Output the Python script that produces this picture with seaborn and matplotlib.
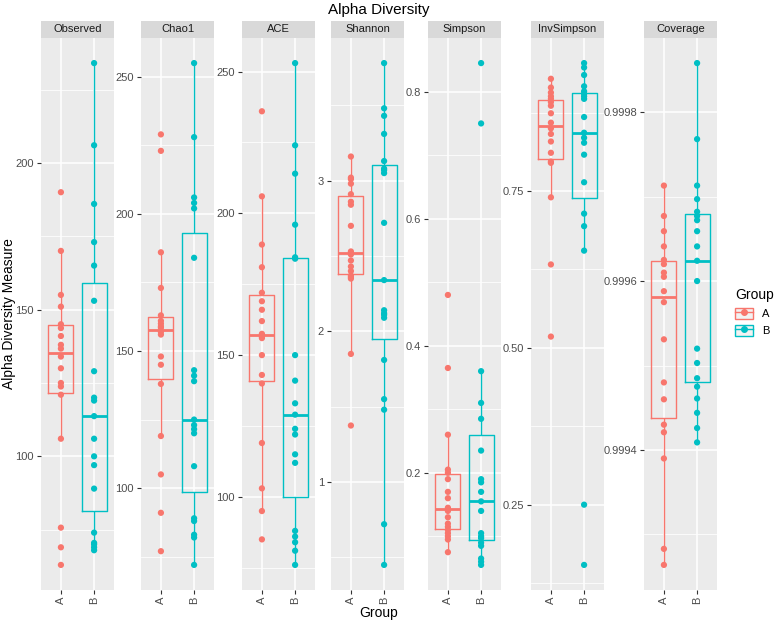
import numpy as np
import pandas as pd
import seaborn as sns
import matplotlib.pyplot as plt
from matplotlib.ticker import MultipleLocator, FormatStrFormatter
from matplotlib.patches import Patch
from matplotlib.lines import Line2D

# Data
groups = ["A", "B"]
measures = ["Observed", "Chao1", "ACE", "Shannon", "Simpson", "InvSimpson", "Coverage"]

observed_a = [190, 170, 155, 151, 145, 143.7, 141, 138, 136.7, 134, 130, 125, 123.8, 121, 106, 75.7, 69, 63]
observed_b = [234, 206, 186, 173, 165, 153, 129, 120, 119, 113.7, 106, 100, 97, 89, 74, 70.5, 70, 69, 68]

chao1_a = [229, 223, 186, 173, 163, 161, 160, 159, 158.5, 157, 156, 148, 145, 138, 119, 105, 91, 77]
chao1_b = [255, 228, 206, 204, 202, 184, 143, 141, 139, 125, 123, 121.5, 120, 108, 89, 88, 83, 82, 72]

ace_a = [236, 206, 189, 181, 172, 169, 166, 162, 157.5, 156.5, 156, 150, 143, 140, 119, 103, 95, 85]
ace_b = [253, 224, 214, 196, 184.5, 184, 150, 141, 133, 129, 124, 122, 115, 112, 88, 86, 84, 81, 76]

shannon_a = [3.16, 3.02, 3.01, 2.98, 2.91, 2.86, 2.84, 2.70, 2.53, 2.51, 2.47, 2.43, 2.40, 2.37, 2.36, 2.35, 1.85, 1.375]
shannon_b = [3.78, 3.48, 3.43, 3.31, 3.13, 3.08, 3.07, 3.05, 2.72, 2.34, 2.14, 2.12, 2.11, 2.09, 1.81, 1.55, 1.48, 0.72, 0.45]

simpson_a = [0.48, 0.365, 0.26, 0.205, 0.20, 0.19, 0.17, 0.16, 0.145, 0.14, 0.13, 0.12, 0.115, 0.11, 0.105, 0.10, 0.095, 0.075]
simpson_b = [0.845, 0.75, 0.36, 0.31, 0.285, 0.235, 0.19, 0.185, 0.17, 0.155, 0.14, 0.105, 0.10, 0.097, 0.09, 0.085, 0.065, 0.06, 0.055]

invsimpson_a = [0.929, 0.915, 0.907, 0.901, 0.897, 0.892, 0.886, 0.874, 0.859, 0.85, 0.841, 0.829, 0.811, 0.797, 0.795, 0.74, 0.633, 0.518]
invsimpson_b = [0.954, 0.947, 0.935, 0.917, 0.909, 0.905, 0.901, 0.897, 0.868, 0.843, 0.835, 0.827, 0.808, 0.764, 0.714, 0.694, 0.655, 0.25, 0.154]

coverage_a = [0.999713, 0.999677, 0.999659, 0.999641, 0.999625, 0.99962, 0.99961, 0.999605, 0.999588, 0.999575,
              0.999531, 0.99948, 0.99946, 0.99943, 0.999421, 0.99939, 0.999283, 0.999264]
coverage_b = [0.999858, 0.999768, 0.999713, 0.999697, 0.999682, 0.999677, 0.999672, 0.999659, 0.999641, 0.999624,
              0.9996, 0.99952, 0.999503, 0.999485, 0.999475, 0.999461, 0.999444, 0.999426, 0.999409]

series = {
    "Observed": (observed_a, observed_b),
    "Chao1": (chao1_a, chao1_b),
    "ACE": (ace_a, ace_b),
    "Shannon": (shannon_a, shannon_b),
    "Simpson": (simpson_a, simpson_b),
    "InvSimpson": (invsimpson_a, invsimpson_b),
    "Coverage": (coverage_a, coverage_b),
}

rows = []
for m in measures:
    a, b = series[m]
    rows += [(m, "A", v) for v in a]
    rows += [(m, "B", v) for v in b]
df = pd.DataFrame(rows, columns=["variable", "Group", "value"])

# axis ticks per facet: (major step, minor step, label format)
tick_spec = {
    "Observed": (50, 25, "%d"),
    "Chao1": (50, 25, "%d"),
    "ACE": (50, 25, "%d"),
    "Shannon": (1, 0.5, "%d"),
    "Simpson": (0.2, 0.1, "%.1f"),
    "InvSimpson": (0.25, 0.125, "%.2f"),
    "Coverage": (0.0002, 0.0001, "%.4f"),
}

palette = {"A": "#F8766D", "B": "#00BFC4"}
plt.rcParams["font.family"] = ["Liberation Sans", "DejaVu Sans"]

W, H = 778, 625
fig = plt.figure(figsize=(W / 100, H / 100), dpi=100)

# free y scales: the gap before each facet depends on its tick label width
panel_w = 73
gaps = [27, 28, 16, 24, 30, 40]
panel_left = [41]
for g in gaps:
    panel_left.append(panel_left[-1] + panel_w + g)
panel_top, panel_bot = 38, 590
strip_h = 17

for m, left in zip(measures, panel_left):
    sub = df[df["variable"] == m]
    ax = fig.add_axes([left / W, 1 - panel_bot / H, panel_w / W, (panel_bot - panel_top) / H])
    ax.set_facecolor("#EBEBEB")
    sns.boxplot(data=sub, x="Group", y="value", hue="Group", order=groups, palette=palette,
                fill=False, width=0.75, showfliers=False, showcaps=False, linewidth=1.0,
                medianprops={"linewidth": 2.0}, legend=False, ax=ax)
    sns.stripplot(data=sub, x="Group", y="value", hue="Group", order=groups, palette=palette,
                  jitter=False, size=4.5, legend=False, ax=ax, zorder=3)
    lo, hi = sub["value"].min(), sub["value"].max()
    pad = (hi - lo) * 0.05
    ax.set_ylim(lo - pad, hi + pad)
    ax.set_xlim(-0.6, 1.6)
    major, minor, fmt = tick_spec[m]
    ax.yaxis.set_major_locator(MultipleLocator(major))
    ax.yaxis.set_minor_locator(MultipleLocator(minor))
    ax.yaxis.set_major_formatter(FormatStrFormatter(fmt))
    ax.grid(which="major", color="white", linewidth=1.1)
    ax.grid(which="minor", axis="y", color="white", linewidth=0.55)
    ax.set_axisbelow(True)
    for s in ax.spines.values():
        s.set_visible(False)
    ax.tick_params(axis="both", which="major", length=3, width=0.8, color="#333333",
                   labelsize=8, labelcolor="#4D4D4D", pad=2)
    ax.tick_params(axis="y", which="minor", length=0)
    ax.tick_params(axis="x", labelrotation=90)
    ax.set_xlabel("")
    ax.set_ylabel("")

    # facet strip
    sax = fig.add_axes([left / W, 1 - panel_top / H, panel_w / W, strip_h / H])
    sax.set_facecolor("#D9D9D9")
    sax.set_xticks([])
    sax.set_yticks([])
    for s in sax.spines.values():
        s.set_visible(False)
    sax.text(0.5, 0.5, m, ha="center", va="center", fontsize=8, color="#1A1A1A",
             transform=sax.transAxes)

mid_x = (panel_left[0] + panel_left[-1] + panel_w) / 2
fig.text(mid_x / W, 1 - 10 / H, "Alpha Diversity", ha="center", va="center", fontsize=11)
fig.text(mid_x / W, 1 - 613 / H, "Group", ha="center", va="center", fontsize=10)
fig.text(9 / W, 1 - (panel_top + panel_bot) / 2 / H, "Alpha Diversity Measure",
         rotation=90, ha="center", va="center", fontsize=10)

handles = [(Patch(facecolor="#F2F2F2", edgecolor=palette[g], linewidth=1.0),
            Line2D([], [], color=palette[g], marker="o", markersize=4, linewidth=1.0))
           for g in groups]
fig.legend(handles, groups, title="Group", loc="center left",
           bbox_to_anchor=(731 / W, 1 - 312 / H), frameon=False, fontsize=8,
           title_fontsize=10, handlelength=1.6, handleheight=1.2, borderaxespad=0,
           alignment="left")

fig.savefig("out.png", dpi=100)
